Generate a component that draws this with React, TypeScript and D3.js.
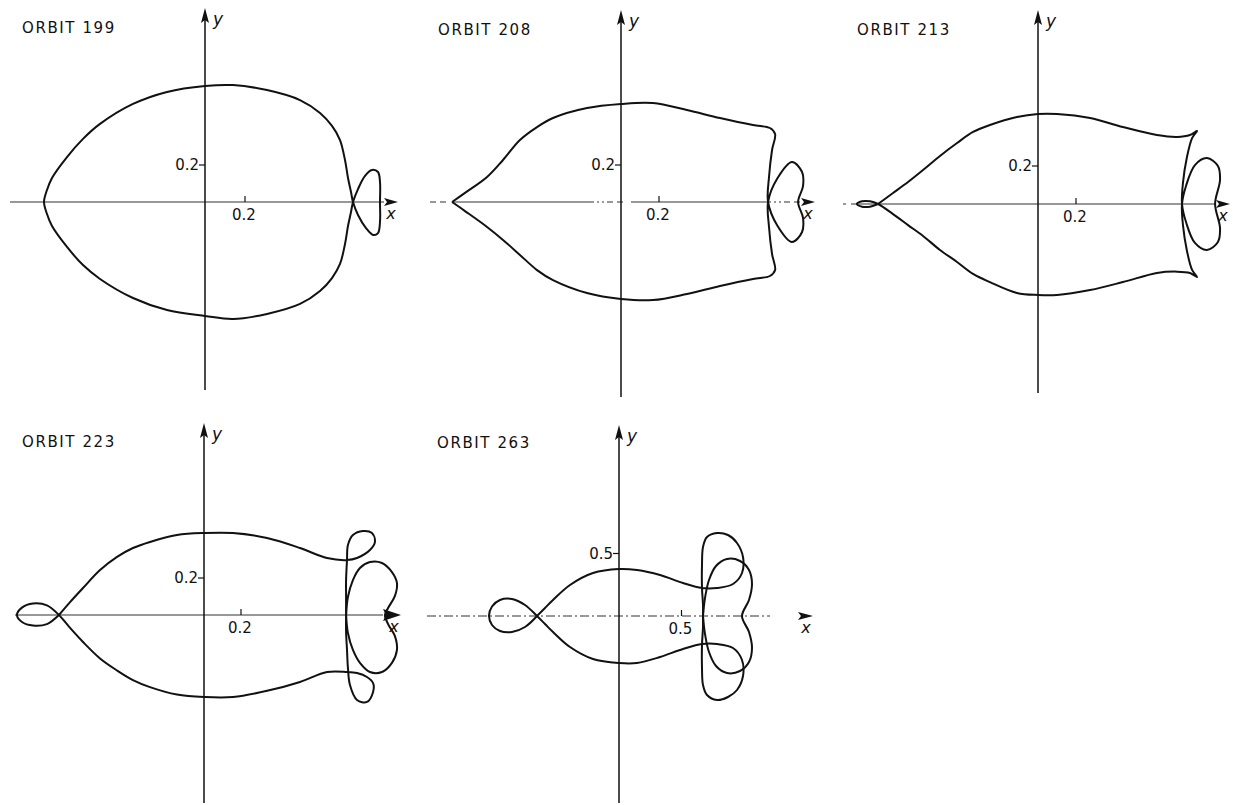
import React from "react";
import * as d3 from "d3";

type Pt = [number, number];

// panel titles and tick values
const orbitNames = ["ORBIT 199", "ORBIT 208", "ORBIT 213", "ORBIT 223", "ORBIT 263"];
const xTickValues = [0.2, 0.2, 0.2, 0.2, 0.5];
const yTickValues = [0.2, 0.2, 0.2, 0.2, 0.5];
const tickLabels = ["0.2", "0.2", "0.2", "0.2", "0.5"];

// orbit traces, (x, y) in plot units
const orbit199: Pt[] = [
  [-0.805, 0], [-0.79, 0.065], [-0.765, 0.13], [-0.69, 0.243], [-0.61, 0.341], [-0.525, 0.422],
  [-0.36, 0.53], [-0.19, 0.595], [0, 0.627], [0.14, 0.632], [0.31, 0.605], [0.475, 0.551],
  [0.575, 0.481], [0.635, 0.411], [0.675, 0.335], [0.7, 0.227], [0.715, 0.13], [0.73, 0.054], [0.74, 0],
  [0.765, -0.07], [0.805, -0.141], [0.84, -0.178], [0.865, -0.168], [0.875, -0.108], [0.875, 0],
  [0.875, 0.108], [0.865, 0.162], [0.835, 0.173], [0.8, 0.141], [0.765, 0.07], [0.74, 0],
  [0.73, -0.054], [0.715, -0.13], [0.7, -0.227], [0.675, -0.335], [0.635, -0.411], [0.575, -0.481],
  [0.475, -0.551], [0.31, -0.605], [0.14, -0.632], [0, -0.616], [-0.19, -0.584], [-0.36, -0.519],
  [-0.525, -0.416], [-0.61, -0.341], [-0.69, -0.243], [-0.765, -0.13], [-0.79, -0.065],
];

const orbit208: Pt[] = [
  [-0.889, 0], [-0.821, 0.049], [-0.705, 0.135], [-0.621, 0.227], [-0.532, 0.335], [-0.442, 0.405],
  [-0.358, 0.454], [-0.179, 0.508], [0, 0.53], [0.168, 0.535], [0.347, 0.497], [0.521, 0.454],
  [0.695, 0.416], [0.784, 0.4], [0.811, 0.368], [0.795, 0.281], [0.779, 0.135], [0.774, 0],
  [0.821, -0.124], [0.9, -0.216], [0.953, -0.162], [0.958, -0.086], [0.932, 0], [0.958, 0.086],
  [0.953, 0.162], [0.9, 0.216], [0.821, 0.124], [0.774, 0],
  [0.779, -0.135], [0.795, -0.281], [0.811, -0.368], [0.784, -0.4], [0.695, -0.416], [0.521, -0.454],
  [0.347, -0.497], [0.168, -0.53], [0, -0.524], [-0.179, -0.492], [-0.358, -0.422], [-0.442, -0.368],
  [-0.532, -0.286], [-0.621, -0.205], [-0.705, -0.135], [-0.821, -0.049], [-0.889, 0],
];

const orbit213: Pt[] = [
  [-0.842, 0], [-0.763, 0.058], [-0.684, 0.116], [-0.605, 0.179], [-0.516, 0.253], [-0.426, 0.321],
  [-0.342, 0.379], [-0.253, 0.416], [-0.111, 0.458], [0, 0.474], [0.1, 0.474], [0.274, 0.453],
  [0.447, 0.405], [0.626, 0.363], [0.732, 0.353], [0.8, 0.363], [0.837, 0.384], [0.811, 0.347],
  [0.784, 0.247], [0.763, 0.111], [0.758, 0],
  [0.779, -0.095], [0.826, -0.205], [0.889, -0.242], [0.947, -0.2], [0.958, -0.126], [0.932, 0],
  [0.958, 0.126], [0.947, 0.2], [0.889, 0.242], [0.826, 0.205], [0.779, 0.095], [0.758, 0],
  [0.763, -0.111], [0.784, -0.247], [0.811, -0.347], [0.837, -0.384], [0.8, -0.363], [0.732, -0.356],
  [0.626, -0.363], [0.447, -0.411], [0.274, -0.453], [0.1, -0.479], [0, -0.479], [-0.111, -0.468],
  [-0.253, -0.411], [-0.342, -0.368], [-0.426, -0.305], [-0.516, -0.242], [-0.605, -0.168],
  [-0.684, -0.111], [-0.763, -0.053], [-0.842, 0],
  [-0.884, 0.014], [-0.926, 0.014], [-0.953, 0], [-0.926, -0.014], [-0.884, -0.014], [-0.842, 0],
];

const orbit223: Pt[] = [
  [-0.784, 0], [-0.724, 0.07], [-0.654, 0.146], [-0.562, 0.243], [-0.47, 0.314], [-0.384, 0.362],
  [-0.292, 0.395], [-0.146, 0.432], [0, 0.443], [0.157, 0.443], [0.341, 0.416], [0.519, 0.362],
  [0.665, 0.308], [0.773, 0.297],
  [0.827, 0.308], [0.897, 0.351], [0.924, 0.395], [0.908, 0.443], [0.859, 0.454], [0.805, 0.432],
  [0.778, 0.378], [0.773, 0.297], [0.768, 0.189], [0.768, 0.092], [0.768, 0], [0.768, -0.092],
  [0.773, -0.189], [0.778, -0.286], [0.789, -0.378], [0.827, -0.459], [0.881, -0.47], [0.914, -0.416],
  [0.914, -0.368], [0.881, -0.335], [0.827, -0.314], [0.773, -0.308],
  [0.665, -0.308], [0.519, -0.362], [0.341, -0.41], [0.157, -0.443], [0, -0.443], [-0.146, -0.43],
  [-0.292, -0.39], [-0.384, -0.352], [-0.47, -0.3], [-0.562, -0.235], [-0.654, -0.146], [-0.724, -0.07],
  [-0.784, 0],
  [-0.849, 0.052], [-0.924, 0.062], [-0.984, 0.04], [-1.011, 0], [-0.984, -0.038], [-0.924, -0.057],
  [-0.849, -0.049], [-0.784, 0],
];

const orbit223Lobe: Pt[] = [
  [0.768, 0], [0.778, 0.097], [0.805, 0.189], [0.843, 0.254], [0.897, 0.286], [0.962, 0.281],
  [1.016, 0.232], [1.043, 0.173], [1.032, 0.103], [0.995, 0.038], [0.978, 0], [0.995, -0.049],
  [1.032, -0.114], [1.043, -0.189], [1.016, -0.259], [0.962, -0.308], [0.897, -0.308], [0.843, -0.259],
  [0.805, -0.189], [0.778, -0.097], [0.768, 0],
];

const orbit263: Pt[] = [
  [-0.656, 0], [-0.592, 0.064], [-0.528, 0.128], [-0.392, 0.248], [-0.208, 0.344], [0, 0.376],
  [0.144, 0.368], [0.328, 0.328], [0.512, 0.264], [0.664, 0.224],
  [0.784, 0.224], [0.912, 0.256], [0.984, 0.344], [0.992, 0.472], [0.944, 0.584], [0.872, 0.648],
  [0.784, 0.664], [0.704, 0.632], [0.672, 0.552], [0.664, 0.408], [0.664, 0.224], [0.672, 0.088],
  [0.672, 0], [0.672, -0.088], [0.664, -0.232], [0.664, -0.416], [0.672, -0.552], [0.704, -0.632],
  [0.784, -0.672], [0.872, -0.648], [0.944, -0.592], [0.992, -0.48], [0.984, -0.352], [0.912, -0.256],
  [0.784, -0.224], [0.664, -0.224],
  [0.512, -0.264], [0.328, -0.328], [0.144, -0.376], [0, -0.376], [-0.208, -0.344], [-0.392, -0.248],
  [-0.528, -0.128], [-0.592, -0.064], [-0.656, 0],
  [-0.752, 0.088], [-0.856, 0.136], [-0.952, 0.128], [-1.016, 0.076], [-1.04, 0], [-1.016, -0.072],
  [-0.952, -0.12], [-0.856, -0.128], [-0.752, -0.088], [-0.656, 0],
];

const orbit263Lobe: Pt[] = [
  [0.672, 0], [0.688, 0.144], [0.72, 0.288], [0.776, 0.4], [0.864, 0.456], [0.968, 0.44],
  [1.04, 0.368], [1.064, 0.256], [1.04, 0.128], [0.984, 0], [1.04, -0.128], [1.064, -0.256],
  [1.04, -0.368], [0.968, -0.44], [0.864, -0.456], [0.776, -0.4], [0.72, -0.288], [0.688, -0.144],
  [0.672, 0],
];

// each trace: points, and whether it closes on itself smoothly
const orbitTraces: { pts: Pt[]; closed: boolean }[][] = [
  [{ pts: orbit199, closed: true }],
  [{ pts: orbit208, closed: false }],
  [{ pts: orbit213, closed: false }],
  [{ pts: orbit223, closed: false }, { pts: orbit223Lobe, closed: false }],
  [{ pts: orbit263, closed: false }, { pts: orbit263Lobe, closed: false }],
];

// panel layout: origin, pixels per unit, axis extents
const layout = [
  { ox: 205, oy: 202, kx: 200, ky: 185, left: 10, right: 398, top: 8, bottom: 390, lineEnd: 398, title: [22, 33], xDash: null, arrow: [14, 4] },
  { ox: 621, oy: 202, kx: 190, ky: 185, left: 430, right: 815, top: 10, bottom: 397, lineEnd: 815, title: [438, 35], xDash: "6 4 6 8 140 3 2 3 2 3", arrow: [14, 4] },
  { ox: 1038, oy: 204, kx: 190, ky: 190, left: 843, right: 1230, top: 10, bottom: 393, lineEnd: 1230, title: [857, 35], xDash: "3 5 400 0", arrow: [14, 4] },
  { ox: 204, oy: 615, kx: 185, ky: 185, left: 15, right: 401, top: 423, bottom: 803, lineEnd: 401, title: [22, 447], xDash: null, arrow: [18, 6] },
  { ox: 619, oy: 616, kx: 125, ky: 125, left: 427, right: 813, top: 425, bottom: 803, lineEnd: 770, title: [437, 448], xDash: "9 3 2 3", arrow: [15, 4] },
];

const font = "'DejaVu Sans', 'Liberation Sans', sans-serif";
const ink = "#111";

const Panel = ({ i }: { i: number }) => {
  const L = layout[i];
  const x = d3.scaleLinear().domain([0, 1]).range([L.ox, L.ox + L.kx]);
  const y = d3.scaleLinear().domain([0, 1]).range([L.oy, L.oy - L.ky]);
  const open = d3.line<Pt>().x((d) => x(d[0])).y((d) => y(d[1])).curve(d3.curveCatmullRom.alpha(0.5));
  const closed = d3.line<Pt>().x((d) => x(d[0])).y((d) => y(d[1])).curve(d3.curveCatmullRomClosed.alpha(0.5));

  const [al, aw] = L.arrow;
  const xt = x(xTickValues[i]);
  const yt = y(yTickValues[i]);

  return (
    <g>
      <text x={L.title[0]} y={L.title[1]} fontFamily={font} fontSize={15} letterSpacing={1.6} fill={ink}>
        {orbitNames[i]}
      </text>

      {/* x axis */}
      <line x1={L.left} x2={L.lineEnd - (L.lineEnd === L.right ? al : 0)} y1={L.oy} y2={L.oy}
        stroke="#333" strokeWidth={1.1} strokeDasharray={L.xDash ?? undefined} />
      <path d={`M${L.right},${L.oy} L${L.right - al},${L.oy - aw} L${L.right - al + 3},${L.oy} L${L.right - al},${L.oy + aw} Z`} fill={ink} />
      <text x={L.right - 7} y={L.oy + 17} fontFamily={font} fontStyle="italic" fontSize={16} textAnchor="middle" fill={ink}>x</text>

      {/* y axis */}
      <line x1={L.ox} x2={L.ox} y1={L.bottom} y2={L.top + 12} stroke={ink} strokeWidth={1.5} />
      <path d={`M${L.ox},${L.top} L${L.ox - 4},${L.top + 15} L${L.ox},${L.top + 12} L${L.ox + 4},${L.top + 15} Z`} fill={ink} />
      <text x={L.ox + 8} y={L.top + 17} fontFamily={font} fontStyle="italic" fontSize={17} fill={ink}>y</text>

      {/* ticks */}
      <line x1={L.ox - 6} x2={L.ox} y1={yt} y2={yt} stroke={ink} strokeWidth={1.2} />
      <text x={L.ox - 6} y={yt + 5} fontFamily={font} fontSize={15} textAnchor="end" fill={ink}>{tickLabels[i]}</text>
      <line x1={xt} x2={xt} y1={L.oy - 6} y2={L.oy} stroke={ink} strokeWidth={1.2} />
      <text x={xt - 1} y={L.oy + 18} fontFamily={font} fontSize={15} textAnchor="middle" fill={ink}>{tickLabels[i]}</text>

      {orbitTraces[i].map((t, j) => (
        <path key={j} d={(t.closed ? closed(t.pts) : open(t.pts)) ?? ""} fill="none" stroke={ink}
          strokeWidth={2} strokeLinejoin="round" />
      ))}
    </g>
  );
};

export default function App() {
  return (
    <svg width={1233} height={805} style={{ position: "absolute", left: 0, top: 0, background: "#fff" }}>
      <rect width={1233} height={805} fill="#fff" />
      {layout.map((_, i) => (
        <Panel key={i} i={i} />
      ))}
    </svg>
  );
}
